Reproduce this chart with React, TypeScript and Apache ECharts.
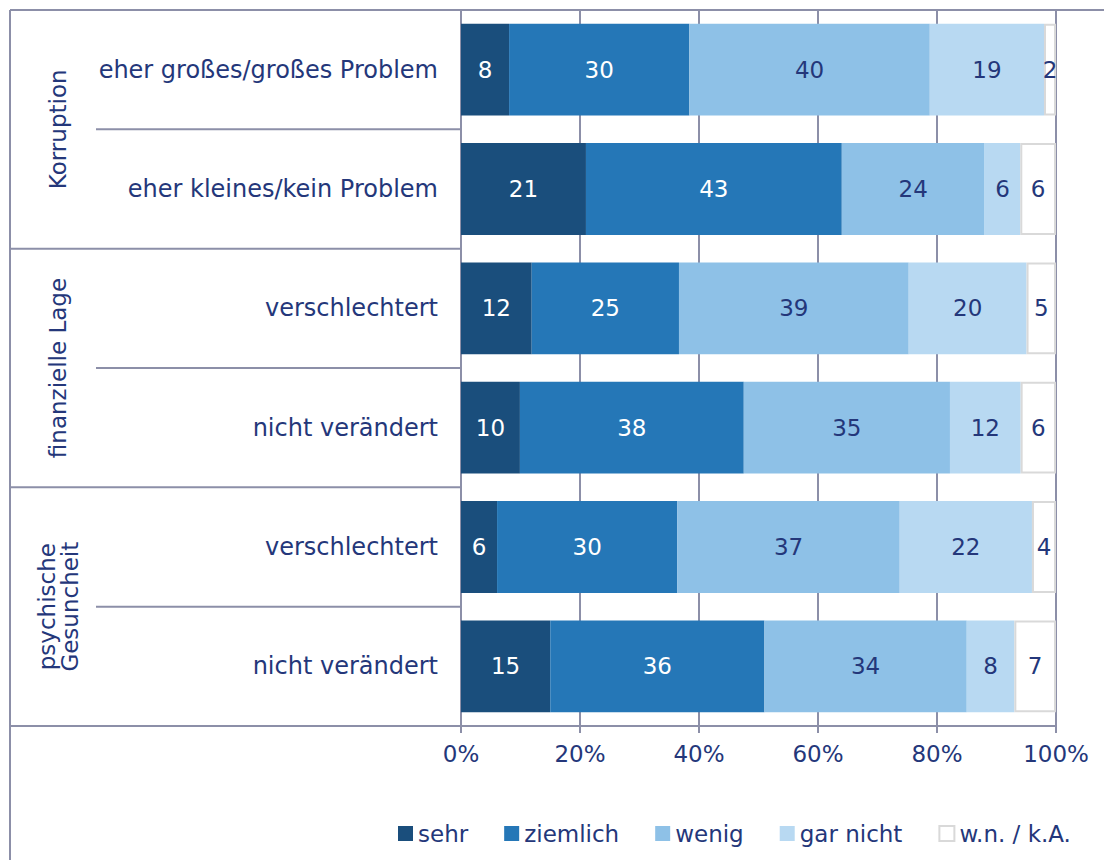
import React, { useEffect, useRef } from "react";
import * as echarts from "echarts";

const categories = [
  "eher großes/großes Problem",
  "eher kleines/kein Problem",
  "verschlechtert",
  "nicht verändert",
  "verschlechtert",
  "nicht verändert",
];
const groupNames = ["Korruption", "finanzielle Lage", "psychische\nGesuncheit"];
const groupSizes = [2, 2, 2];

const seriesNames = ["sehr", "ziemlich", "wenig", "gar nicht", "w.n. / k.A."];
const sehr = [8, 21, 12, 10, 6, 15];
const ziemlich = [30, 43, 25, 38, 30, 36];
const wenig = [40, 24, 39, 35, 37, 34];
const garNicht = [19, 6, 20, 12, 22, 8];
const wnka = [2, 6, 5, 6, 4, 7];
const xTicks = [0, 20, 40, 60, 80, 100];

const colors = ["#1a4e7c", "#2577b7", "#8ec1e7", "#b8d9f2", "#ffffff"];
const labelColors = ["#ffffff", "#ffffff", "#24377a", "#24377a", "#24377a"];
const TEXT = "#24377a";
const LINE = "#8c8fa8";
const FONT = "'DejaVu Sans', sans-serif";

export default function App() {
  const ref = useRef<HTMLDivElement>(null);
  useEffect(() => {
    if (!ref.current) return;
    const chart = echarts.init(ref.current, null, { renderer: "svg" });
    const W = 1104;
    const H = 860;
    const gLeft = 461;
    const gRight = 1056;
    const gTop = 10;
    const gBottom = 726;
    const all = [sehr, ziemlich, wenig, garNicht, wnka];
    const totals = categories.map((_, i) => all.reduce((s, arr) => s + arr[i], 0));
    const band = (gBottom - gTop) / categories.length;

    const graphics: any[] = [];
    graphics.push({ type: "line", shape: { x1: 10, y1: gTop, x2: W, y2: gTop }, style: { stroke: LINE, lineWidth: 2 } });
    graphics.push({ type: "line", shape: { x1: 10, y1: gTop, x2: 10, y2: H }, style: { stroke: LINE, lineWidth: 2 } });
    graphics.push({ type: "line", shape: { x1: 10, y1: gBottom, x2: gLeft, y2: gBottom }, style: { stroke: LINE, lineWidth: 2 } });
    let idx = 0;
    groupSizes.forEach((size, g) => {
      const start = gTop + idx * band;
      const end = gTop + (idx + size) * band;
      if (g < groupSizes.length - 1) {
        graphics.push({ type: "line", shape: { x1: 10, y1: end, x2: gLeft, y2: end }, style: { stroke: LINE, lineWidth: 2 } });
      }
      for (let k = 1; k < size; k++) {
        const y = start + k * band;
        graphics.push({ type: "line", shape: { x1: 96, y1: y, x2: gLeft, y2: y }, style: { stroke: LINE, lineWidth: 2 } });
      }
      graphics.push({
        type: "text",
        x: 58,
        y: (start + end) / 2,
        rotation: Math.PI / 2,
        style: {
          text: groupNames[g],
          fill: TEXT,
          font: `23px ${FONT}`,
          lineHeight: 23,
          align: "center",
          verticalAlign: "middle",
        },
      });
      idx += size;
    });

    const series = all.map((arr, s) => ({
      name: seriesNames[s],
      type: "bar",
      stack: "total",
      barWidth: "77%",
      itemStyle: {
        color: colors[s],
        borderColor: s === 4 ? "#d9d9d9" : colors[s],
        borderWidth: s === 4 ? 2 : 0,
      },
      label: {
        show: true,
        position: "inside",
        color: labelColors[s],
        fontSize: 23,
        fontFamily: FONT,
        formatter: (p: any) => String(arr[p.dataIndex]),
      },
      data: arr.map((v, i) => (v / totals[i]) * 100),
    }));

    chart.setOption({
      animation: false,
      textStyle: { fontFamily: FONT },
      grid: { left: gLeft, right: W - gRight, top: gTop, bottom: H - gBottom, containLabel: false },
      xAxis: {
        type: "value",
        min: xTicks[0],
        max: xTicks[xTicks.length - 1],
        interval: 20,
        axisLine: { show: true, lineStyle: { color: LINE, width: 2 } },
        axisTick: { show: true, length: 7, lineStyle: { color: LINE, width: 2 } },
        splitLine: { show: true, lineStyle: { color: LINE, width: 2 } },
        axisLabel: { formatter: "{value}%", color: TEXT, fontSize: 23, margin: 16, fontFamily: FONT },
      },
      yAxis: {
        type: "category",
        inverse: true,
        data: categories,
        axisLine: { show: true, lineStyle: { color: LINE, width: 2 } },
        axisTick: { show: false },
        axisLabel: { color: TEXT, fontSize: 24, margin: 23, fontFamily: FONT },
      },
      legend: {
        data: seriesNames,
        left: 393,
        top: 817,
        itemWidth: 15,
        itemHeight: 15,
        itemGap: 36,
        icon: "rect",
        textStyle: { color: TEXT, fontSize: 23, fontFamily: FONT, padding: [0, 0, 0, 0] },
      },
      series,
      graphic: graphics,
    });
    return () => chart.dispose();
  }, []);
  return (
    <div
      ref={ref}
      style={{ position: "fixed", left: 0, top: 0, width: 1104, height: 860, background: "#fff" }}
    />
  );
}
